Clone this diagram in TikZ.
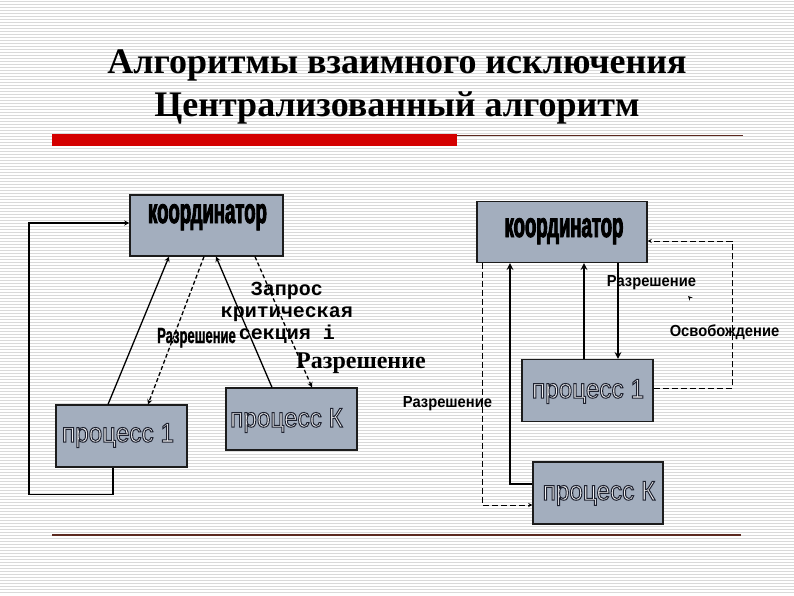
\documentclass[tikz,border=0pt]{standalone}
\usepackage{fontspec}
\setmainfont{Liberation Serif}
\newfontfamily\coordfont[FakeStretch=0.53,FakeBold=2.5]{Liberation Sans}
\newfontfamily\procfont[FakeStretch=0.9]{Liberation Sans}
\newfontfamily\narrowfont[FakeStretch=0.59,FakeBold=1]{Liberation Sans}
\newfontfamily\notefont[FakeStretch=0.92]{Liberation Sans}
\newfontfamily\monofont{Liberation Mono}
% outlined glyphs: fill with the text colour, stroke in dark
\newcommand\outlined[1]{\special{pdf:literal direct 2 Tr 1 w 0.118 0.133 0.188 RG}#1\special{pdf:literal direct 0 Tr}}
\definecolor{stripegray}{HTML}{D9D9D9}
\definecolor{boxblue}{HTML}{A3AEBE}
\definecolor{boxedge}{HTML}{1C1C1C}
\definecolor{slidered}{HTML}{D40000}
\definecolor{rulebrown}{HTML}{5C2A20}
\definecolor{procfill}{HTML}{F2F2F4}

\begin{document}
\begin{tikzpicture}[x=1pt,y=-1pt,>=stealth]
  \tikzstyle{stripe}=[line width=1pt, draw=stripegray]
  \tikzstyle{box}=[draw=boxedge, fill=boxblue, line width=1.2pt, inner sep=0pt]
  \tikzstyle{coordbox}=[box, minimum height=61pt]
  \tikzstyle{procbox}=[box, minimum width=131pt, minimum height=62pt]
  \tikzstyle{coordtext}=[anchor=base, inner sep=0pt, font=\coordfont\bfseries\fontsize{35}{35}\selectfont]
  \tikzstyle{proctext}=[anchor=base, inner sep=0pt, text=procfill, font=\procfont\fontsize{27}{27}\selectfont]
  \tikzstyle{link}=[draw=black, line width=1.3pt]
  \tikzstyle{dlink}=[link, dash pattern=on 4pt off 2.5pt]
  \tikzstyle{thicklink}=[draw=black, line width=2pt]
  \tikzstyle{thindash}=[draw=black, line width=0.9pt, dash pattern=on 6pt off 3pt]
  \tikzstyle{note}=[anchor=base, inner sep=0pt, font=\notefont\bfseries\fontsize{16}{16}\selectfont]

  \useasboundingbox (0,0) rectangle (794,595);
  \fill[white] (0,0) rectangle (794,595);
  \foreach \y in {1,4,...,594} {
    \draw[stripe] (0,\y) -- (794,\y);
  }

  % title and rules
  \node (title1) [anchor=base, font=\bfseries\fontsize{36}{40}\selectfont] at (397,73) {Алгоритмы взаимного исключения};
  \node (title2) [anchor=base, font=\bfseries\fontsize{36}{40}\selectfont] at (397,116) {Централизованный алгоритм};
  \fill[slidered] (52,134) rectangle (457,146);
  \draw[rulebrown, line width=1pt] (457,135) -- (743,135);
  \draw[rulebrown, line width=1.5pt] (52,535) -- (741,535);

  % left scheme
  \node (coordL) [coordbox, minimum width=153pt] at (206.5,225.5) {};
  \node (p1L) [procbox] at (121.5,436) {};
  \node (pKL) [procbox] at (291.5,419) {};
  \node (coordLtext) [coordtext] at (207.5,223) {координатор};
  \node (p1Ltext) [proctext] at (118,442) {\outlined{процесс 1}};
  \node (pKLtext) [proctext] at (286.5,427) {\outlined{процесс К}};

  \coordinate (fbL) at (29,223);
  \draw[link,->] ([xshift=-8.5pt]p1L.south) -- ++(0,27) -| (fbL) -- (fbL -| coordL.west);
  \draw[link,->] ([xshift=-13.5pt]p1L.north) -- ([xshift=-37.5pt]coordL.south);
  \draw[dlink,->] ([xshift=-2.5pt]coordL.south) -- ([xshift=26.5pt]p1L.north);
  \draw[link,->] ([xshift=-19.5pt]pKL.north) -- ([xshift=9.5pt]coordL.south);
  \draw[dlink,->] ([xshift=48.5pt]coordL.south) -- ([xshift=20.5pt]pKL.north);

  \node (reqL) [align=center, font=\monofont\bfseries\fontsize{20}{22}\selectfont] at (287,313) {Запрос\\критическая\\секция i};
  \node (permL) [anchor=base, inner sep=0pt, font=\narrowfont\bfseries\fontsize{22}{22}\selectfont] at (196.5,343) {Разрешение};
  \node (permK) [anchor=base, inner sep=0pt, font=\bfseries\fontsize{24}{24}\selectfont] at (361,368) {Разрешение};

  % right scheme
  \node (coordR) [coordbox, minimum width=170pt] at (562,232) {};
  \node (p1R) [procbox] at (587.5,390.5) {};
  \node (pKR) [procbox, minimum width=130pt] at (598,493) {};
  \node (coordRtext) [coordtext] at (564,237) {координатор};
  \node (p1Rtext) [proctext] at (588,398) {\outlined{процесс 1}};
  \node (pKRtext) [proctext] at (599,500) {\outlined{процесс К}};

  \draw[thicklink,->] ([yshift=9pt]pKR.west) -| ([xshift=-52pt]coordR.south);
  \draw[thicklink,<-] ([xshift=22pt]coordR.south) -- ([xshift=22pt]coordR.south |- p1R.north);
  \draw[thicklink,->] ([xshift=56pt]coordR.south) -- ([xshift=56pt]coordR.south |- p1R.north);
  \draw[thindash,->] ([xshift=-80pt]coordR.south) |- ([yshift=-12pt]pKR.west);
  \coordinate (fbR) at (732,241);
  \draw[thindash,->] ([yshift=2.5pt]p1R.east) -| (fbR) -- (fbR -| coordR.east);
  \coordinate (tipR) at (688,296);
  \draw[line width=1pt,->] ([xshift=2pt,yshift=-2pt]tipR) -- (tipR);

  \node (permR1) [note] at (651.5,286) {Разрешение};
  \node (freeR) [note] at (724.5,336) {Освобождение};
  \node (permR2) [note] at (447.5,407) {Разрешение};
\end{tikzpicture}
\end{document}
